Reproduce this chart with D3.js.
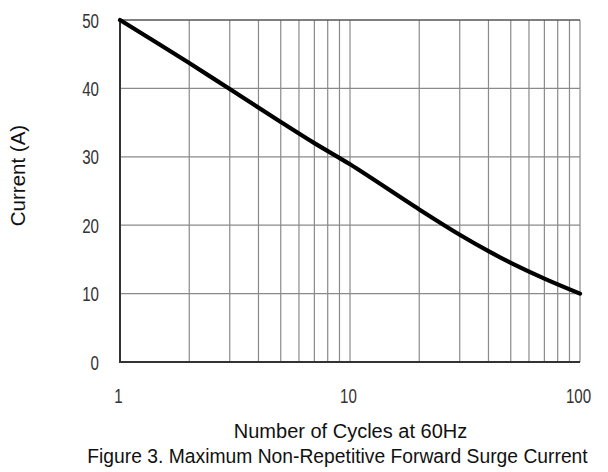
<!DOCTYPE html>
<html><head><meta charset="utf-8">
<script src="https://cdn.jsdelivr.net/npm/d3@7"></script>
<style>body{margin:0;background:#fff}</style>
</head><body>
<svg id="c" width="608" height="472"></svg>
<script>
const cycles  = [1, 2, 3, 5, 7, 10, 20, 30, 40, 50, 70, 100];
const current = [50, 43.7, 39.9, 35.1, 32.0, 28.9, 22.3, 18.6, 16.2, 14.5, 12.2, 10];
const xTickLabels = [1, 10, 100];
const yTickLabels = [0, 10, 20, 30, 40, 50];
const xTitle = "Number of Cycles at 60Hz";
const yTitle = "Current (A)";
const caption = "Figure 3. Maximum Non-Repetitive Forward Surge Current";

const svg = d3.select("#c");
const L = 120, R = 580, T = 20, B = 362;
const x = d3.scaleLog().domain([1, 100]).range([L, R]);
const y = d3.scaleLinear().domain([0, 50]).range([B, T]);
const sans = "'Liberation Sans',Arial,sans-serif";

// vertical grid
const vgrid = [];
for (let d = 1; d <= 10; d *= 10) for (let k = 2; k <= 10; k++) vgrid.push(k * d);
svg.append("g").selectAll("line").data(vgrid).join("line")
  .attr("x1", d => x(d)).attr("x2", d => x(d)).attr("y1", T).attr("y2", B)
  .attr("stroke", "#8a8a8a").attr("stroke-width", 1.2);
// horizontal grid
svg.append("g").selectAll("line").data([10, 20, 30, 40]).join("line")
  .attr("x1", L).attr("x2", R).attr("y1", d => y(d)).attr("y2", d => y(d))
  .attr("stroke", "#8a8a8a").attr("stroke-width", 1.2);
// top border
svg.append("line").attr("x1", L).attr("x2", R).attr("y1", y(50)).attr("y2", y(50))
  .attr("stroke", "#555").attr("stroke-width", 1.4);
// left & bottom axes
svg.append("path").attr("d", `M${L},${T}V${B}H${R}`).attr("fill", "none")
  .attr("stroke", "#333").attr("stroke-width", 2);

// curve
const line = d3.line().x((d, i) => x(cycles[i])).y(d => y(d)).curve(d3.curveCatmullRom);
svg.append("path").datum(current).attr("d", line).attr("fill", "none")
  .attr("stroke", "#000").attr("stroke-width", 4.2).attr("stroke-linecap", "round");

// tick labels (condensed)
const sx = 0.72;
svg.append("g").selectAll("text").data(yTickLabels).join("text")
  .attr("transform", d => `translate(99,${y(d) + 7.5}) scale(${sx},1)`)
  .attr("text-anchor", "end")
  .attr("font-family", sans).attr("font-size", 21).attr("fill", "#333").text(d => d);
svg.append("g").selectAll("text").data(xTickLabels).join("text")
  .attr("transform", d => `translate(${x(d) - 1.5},402.5) scale(${sx},1)`)
  .attr("text-anchor", "middle")
  .attr("font-family", sans).attr("font-size", 21).attr("fill", "#333").text(d => d);

// titles
svg.append("text").attr("x", 350.5).attr("y", 438).attr("text-anchor", "middle")
  .attr("font-family", sans).attr("font-size", 20).attr("fill", "#111").text(xTitle);
svg.append("text").attr("x", 337.5).attr("y", 463).attr("text-anchor", "middle")
  .attr("font-family", sans).attr("font-size", 19.3).attr("fill", "#111").text(caption);
svg.append("text").attr("transform", "translate(25,175.5) rotate(-90)").attr("text-anchor", "middle")
  .attr("font-family", sans).attr("font-size", 20.5).attr("fill", "#111").text(yTitle);
</script>
</body></html>
